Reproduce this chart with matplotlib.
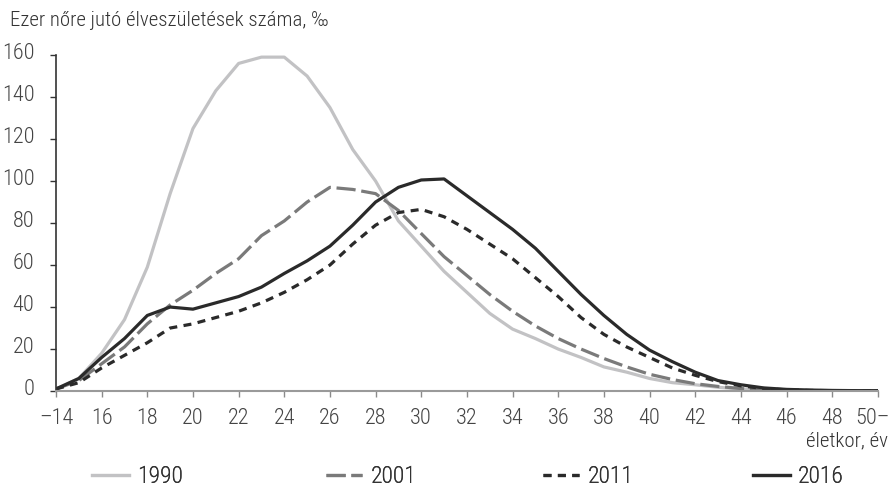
import numpy as np
import matplotlib
matplotlib.use("Agg")
import matplotlib.pyplot as plt
import matplotlib.transforms as mtransforms

plt.rcParams['font.family'] = ['Roboto Condensed', 'Roboto', 'DejaVu Sans']
plt.rcParams['font.weight'] = 'light'

# ================= adatok =================
ages = list(range(14, 51))
y1990 = [1, 6, 18, 34, 59, 94, 125, 143, 156, 159, 159, 150, 135, 115, 100, 81,
         69, 57, 47, 37, 29.5, 25, 20, 16, 11.5, 9, 6, 4, 3, 1.8, 1, 0.5, 0.3,
         0.2, 0.1, 0.1, 0.1]
y2001 = [1, 5, 13, 21, 32, 41, 48, 56, 63, 74, 81, 90, 97, 96, 94, 86,
         75, 64, 55, 46, 38, 31, 25, 20, 15.5, 11.5, 8, 5.5, 3.5, 2.2, 1.2,
         0.6, 0.4, 0.2, 0.1, 0.1, 0.1]
y2011 = [1, 4, 11, 17, 23, 30, 32, 35, 38, 42, 47, 53, 60, 70, 79, 85,
         86.5, 83, 77, 70, 63, 54, 45, 35, 27, 21, 16, 11, 7.5, 4.5, 2.5,
         1.2, 0.6, 0.3, 0.2, 0.1, 0.1]
y2016 = [1, 6, 16, 25, 36, 40, 39, 42, 45, 49.5, 56, 62, 69, 79, 90, 97,
         100.5, 101, 93, 85, 77, 68, 57, 46, 36, 27, 19.5, 14, 9, 5, 3,
         1.5, 0.8, 0.5, 0.3, 0.2, 0.2]
xticks = list(range(14, 51, 2))
xlabels = ['–14'] + [str(v) for v in range(16, 50, 2)] + ['50–']
yticks = list(range(0, 161, 20))
# ==========================================

fig = plt.figure(figsize=(8.93, 4.87), dpi=100)
ax = fig.add_axes([0.0627, 0.197, 0.9203, 0.69])

l1 = ax.plot(ages, y1990, color='#c2c2c4', lw=2.3, label='1990')[0]
l2 = ax.plot(ages, y2001, color='#7a7a7a', lw=2.3, dashes=(6, 1.8), label='2001')[0]
l3 = ax.plot(ages, y2011, color='#2a2a2a', lw=2.3, dashes=(2.5, 2.0), label='2011')[0]
l4 = ax.plot(ages, y2016, color='#2a2a2a', lw=2.3, label='2016')[0]

ax.set_xlim(14, 50)
ax.set_ylim(0, 160)
ax.set_xticks(xticks)
ax.set_xticklabels(xlabels)
ax.set_yticks(yticks)

for s in ['top', 'right']:
    ax.spines[s].set_visible(False)
ax.spines['left'].set_color('#333333')
ax.spines['left'].set_linewidth(1.2)
ax.spines['bottom'].set_color('#9a9a9a')
ax.spines['bottom'].set_linewidth(1.5)

ax.tick_params(axis='y', length=4.5, width=1.0, color='#333333', pad=11,
               labelsize=16, labelcolor='#444444')
ax.tick_params(axis='x', length=4.5, width=1.0, color='#8a8a8a', pad=8,
               labelsize=16, labelcolor='#444444')

# y feliratok kicsit a beosztás fölött
off = mtransforms.ScaledTranslation(0, 4 / 100, fig.dpi_scale_trans)
for lbl in ax.get_yticklabels():
    lbl.set_transform(lbl.get_transform() + off)

# utolsó x felirat ne lógjon ki
xlbls = ax.get_xticklabels()
shift = mtransforms.ScaledTranslation(-5 / 100, 0, fig.dpi_scale_trans)
xlbls[-1].set_transform(xlbls[-1].get_transform() + shift)

fig.text(0.011, 0.958, 'Ezer nőre jutó élveszületések száma, ‰', fontsize=15,
         color='#333333', ha='left', va='center')
fig.text(0.994, 0.094, 'életkor, év', fontsize=15, color='#333333',
         ha='right', va='center')

# jelmagyarázat: egyenként elhelyezve, mint az eredetin
leg_x = [0.093, 0.354, 0.597, 0.833]
for line, lx in zip([l1, l2, l3, l4], leg_x):
    lg = fig.legend([line], [line.get_label()], loc='center left',
                    bbox_to_anchor=(lx, 0.022), borderaxespad=0, frameon=False,
                    fontsize=17, handlelength=1.55, handletextpad=0.35,
                    labelcolor='#333333')
    fig.add_artist(lg)

plt.savefig('out.png', dpi=100)
